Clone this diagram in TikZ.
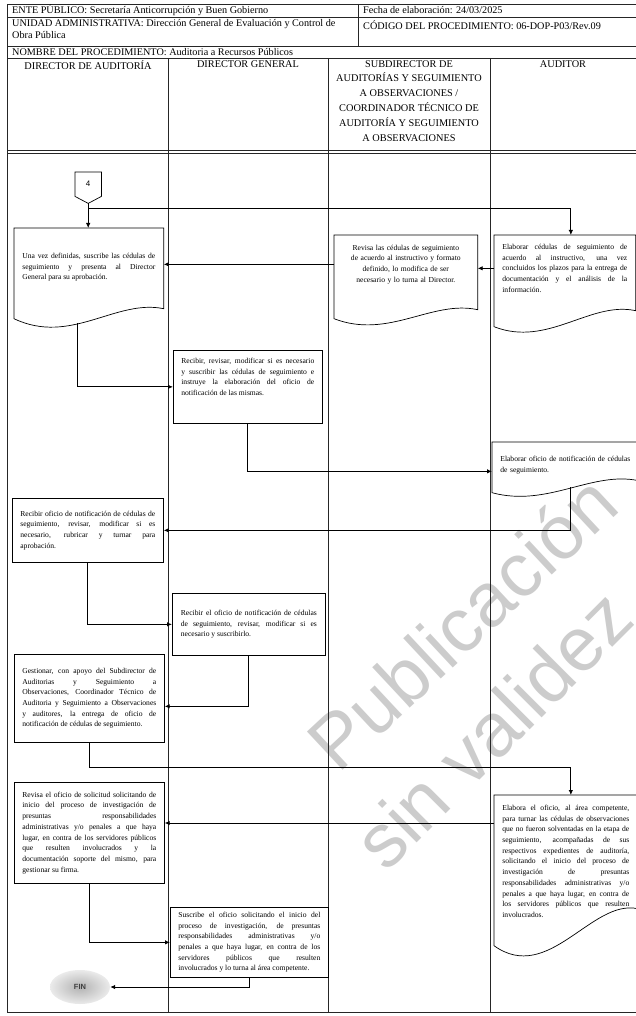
\documentclass[tikz,border=0pt]{standalone}
\usepackage{fontspec}
\setmainfont{Liberation Serif}
\setsansfont{Liberation Sans}
\usetikzlibrary{arrows.meta,calc,shapes.geometric}
\hyphenpenalty=10000
\tolerance=9000

\newcommand{\boxfont}{\fontsize{7.6}{10.7}\selectfont}
\newcommand{\headfont}{\fontsize{10.2}{12.5}\selectfont}

\tikzset{
  grid line/.style={line width=0.6pt, draw=black!85},
  headtext/.style={font=\headfont, anchor=west, inner sep=0pt, align=left},
  colhead/.style={font=\fontsize{10.3}{14.9}\selectfont, anchor=north, inner sep=1pt, align=center},
  procbox/.style={draw, line width=0.7pt, rectangle, anchor=north west, font=\boxfont,
    align=justify, inner xsep=8pt, inner ysep=2pt},
  docbox/.style={procbox, draw=none},
  offpage/.style={anchor=north west, inner sep=0pt, minimum width=26pt, minimum height=24pt,
    font=\sffamily\fontsize{8}{9}\selectfont},
  finbox/.style={ellipse, minimum width=60pt, minimum height=34pt, shading=radial,
    inner color=black!30, outer color=black!8, text=black!75,
    font=\sffamily\bfseries\fontsize{7.5}{8}\selectfont},
  watermark/.style={font=\sffamily\fontsize{76}{76}\selectfont, text=black!20,
    anchor=base west, inner sep=0pt},
  flow/.style={line width=0.9pt, -{Latex[length=5pt,width=4.5pt]}},
}

\begin{document}
\begin{tikzpicture}[x=1pt,y=-1pt]
\useasboundingbox (0,0) rectangle (636,1016);
\clip (0,0) rectangle (636,1016);

% marca de agua
\node[watermark, rotate=43] (wm1) at (338,775) {Publicación};
\node[watermark, rotate=45] (wm2) at (386,874) {sin validez};

% encabezado y carriles
\draw[grid line] (7,4) rectangle (645,1012);
\draw[grid line] (7,17) -- (645,17) (7,46) -- (645,46) (7,58) -- (645,58);
\draw[grid line] (358,4) -- (358,46);
\draw[grid line] (7,150) -- (645,150) (7,153) -- (645,153);
\foreach \x in {168,328,490}
  \draw[grid line] (\x,58) -- (\x,1012);

\node[headtext] (ente) at (12,10.5) {ENTE PÚBLICO: Secretaría Anticorrupción y Buen Gobierno};
\node[headtext] (fecha) at (363,10.5) {Fecha de elaboración: 24/03/2025};
\node[headtext, anchor=north west] (unidad) at (12,19) {UNIDAD ADMINISTRATIVA: Dirección General de Evaluación y Control de\\Obra Pública};
\node[headtext] (codigo) at (363,25) {CÓDIGO DEL PROCEDIMIENTO: 06-DOP-P03/Rev.09};
\node[headtext] (nombre) at (12,52) {NOMBRE DEL PROCEDIMIENTO: Auditoria a Recursos Públicos};

\node[colhead] (hda) at (88,59) {DIRECTOR DE AUDITORÍA};
\node[colhead] (hdg) at (248,59) {DIRECTOR GENERAL};
\node[colhead] (hsub) at (409,59) {SUBDIRECTOR DE\\AUDITORÍAS Y SEGUIMIENTO\\A OBSERVACIONES /\\COORDINADOR TÉCNICO DE\\AUDITORÍA Y SEGUIMIENTO\\A OBSERVACIONES};
\node[colhead] (hau) at (563,59) {AUDITOR};

% conector de pagina
\node[offpage] (c4) at (75,172) {4};
\draw[line width=0.7pt] (c4.north west) -- (c4.north east) -- (c4.south east)
  -- ([yshift=-7pt]c4.south) -- (c4.south west) -- cycle;
\coordinate (c4tip) at ([yshift=-7pt]c4.south);

% actividades
\node[docbox, text width=133pt, minimum width=149pt, minimum height=78pt] (da1) at (14,228)
  {Una vez definidas, suscribe las cédulas de\linebreak seguimiento y presenta al Director\linebreak General para su aprobación.};
\node[docbox, align=center, text width=127pt, minimum width=143pt, minimum height=58pt] (sub1) at (334,235)
  {Revisa las cédulas de seguimiento\\ de acuerdo al instructivo y formato\\ definido, lo modifica de ser\\ necesario y lo turna al Director.};
\node[docbox, text width=125pt, minimum width=141pt, minimum height=66pt] (au1) at (494,235)
  {Elaborar cédulas de seguimiento de\linebreak acuerdo al instructivo, una vez\linebreak concluidos los plazos para la entrega de\linebreak documentación y el análisis de la\linebreak información.};
\node[procbox, text width=133pt, minimum width=149pt, minimum height=73pt, text depth=52pt] (dg1) at (173,350)
  {Recibir, revisar, modificar si es necesario\linebreak y suscribir las cédulas de seguimiento e\linebreak instruye la elaboración del oficio de\linebreak notificación de las mismas.};
\node[docbox, align=left, text width=130pt, minimum width=143pt, minimum height=46pt] (au2) at (492,442)
  {Elaborar oficio de notificación de cédulas\\ de seguimiento.};
\node[procbox, text width=135pt, minimum width=151pt, minimum height=64pt] (da2) at (12,498)
  {Recibir oficio de notificación de cédulas de\linebreak seguimiento, revisar, modificar si es\linebreak necesario, rubricar y turnar para\linebreak aprobación.};
\node[procbox, text width=136pt, minimum width=153pt, minimum height=62pt] (dg2) at (172,593)
  {Recibir el oficio de notificación de cédulas\linebreak de seguimiento, revisar, modificar si es\linebreak necesario y suscribirlo.};
\node[procbox, text width=134pt, minimum width=150pt, minimum height=88pt] (da3) at (14,654)
  {Gestionar, con apoyo del Subdirector de\linebreak Auditorias y Seguimiento a\linebreak Observaciones, Coordinador Técnico de\linebreak Auditoria y Seguimiento a Observaciones\linebreak y auditores, la entrega de oficio de\linebreak notificación de cédulas de seguimiento.};
\node[docbox, text width=127pt, minimum width=141pt, minimum height=132pt] (au3) at (494,795)
  {Elabora el oficio, al área competente,\linebreak para turnar las cédulas de observaciones\linebreak que no fueron solventadas en la etapa de\linebreak seguimiento, acompañadas de sus\linebreak respectivos expedientes de auditoría,\linebreak solicitando el inicio del proceso de\linebreak investigación de presuntas\linebreak responsabilidades administrativas y/o\linebreak penales a que haya lugar, en contra de\linebreak los servidores públicos que resulten\linebreak involucrados.};
\node[procbox, text width=134pt, minimum width=150pt, minimum height=101pt] (da4) at (14,782)
  {Revisa el oficio de solicitud solicitando de\linebreak inicio del proceso de investigación de\linebreak presuntas responsabilidades\linebreak administrativas y/o penales a que haya\linebreak lugar, en contra de los servidores públicos\linebreak que resulten involucrados y la\linebreak documentación soporte del mismo, para\linebreak gestionar su firma.};
\node[procbox, text width=142pt, minimum width=158pt, minimum height=70pt] (dg3) at (170,907)
  {Suscribe el oficio solicitando el inicio del\linebreak proceso de investigación, de presuntas\linebreak responsabilidades administrativas y/o\linebreak penales a que haya lugar, en contra de los\linebreak servidores públicos que resulten\linebreak involucrados y lo turna al área competente.};
\node[finbox] (fin) at (80,987) {FIN};

% contorno de documento (borde inferior ondulado)
\foreach \n/\e/\r/\d in {da1/12/10/9, sub1/25/9/7, au1/25/16/7, au2/4/12/5, au3/18/37/13}
  \draw[line width=0.7pt] (\n.north west) -- (\n.north east)
    -- ([yshift={(\r-\e)*1pt}]\n.south east)
    .. controls ($(\n.south east)!0.32!(\n.south west)+(0pt,{(\r-\e+10)*1pt})$)
    and ($(\n.south west)!0.38!(\n.south east)+(0pt,{(-\e-3*\d)*1pt})$)
    .. ([yshift={-\e*1pt}]\n.south west) -- cycle;
\coordinate (da1out) at (77,323);
\coordinate (au2out) at (570,487);

% flujo
\draw[flow] (c4tip) -- (c4tip |- da1.north);
\draw[flow] ([yshift=-5pt]c4tip) -| ([xshift=6pt]au1.north);
\draw[flow] (au1.west) -- (au1.west -| sub1.east);
\draw[flow] (sub1.west) -- (sub1.west -| da1.east);
\draw[flow] (da1out) |- (dg1.west);
\draw[flow] (dg1.south) |- ([yshift=-6pt]au2.west);
\draw[flow] (au2out) |- (da2.east);
\draw[flow] (da2.south) |- (dg2.west);
\draw[flow] (dg2.south) |- ([yshift=-8pt]da3.east);
\draw[flow] (da3.south) -- ++(0,25) -| ([xshift=5pt]au3.north);
\draw[flow] ([yshift=-28pt]au3.north west) -- ([yshift=-28pt]au3.north west -| da4.east);
\draw[flow] (da4.south) |- (dg3.west);
\draw[flow] (dg3.south) |- (fin.east);
\end{tikzpicture}
\end{document}
